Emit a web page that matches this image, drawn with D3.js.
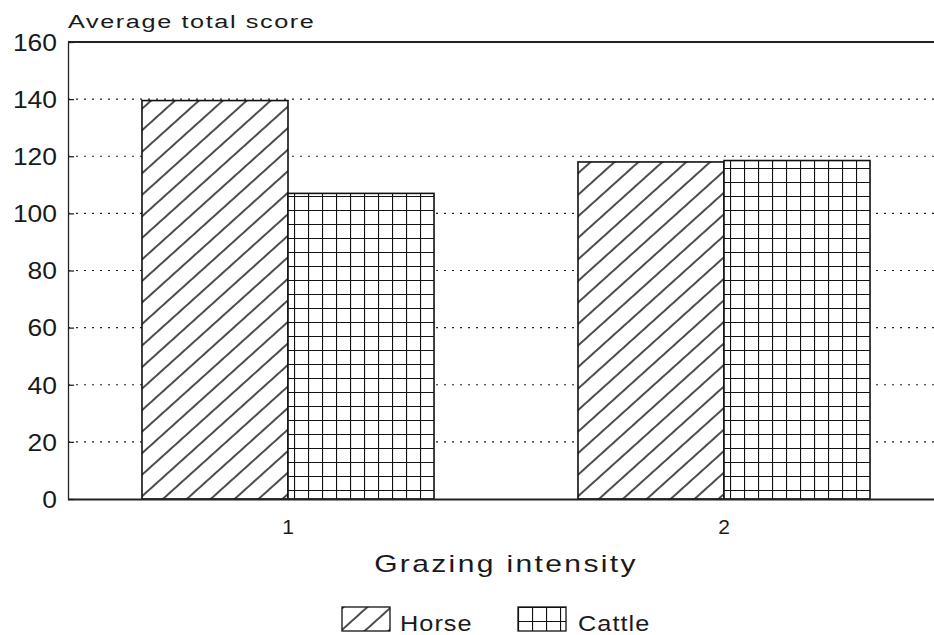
<!DOCTYPE html>
<html>
<head>
<meta charset="utf-8">
<script src="https://cdn.jsdelivr.net/npm/d3@7"></script>
<style>
  body { margin: 0; background: #fff; }
  text { font-family: "Liberation Sans", Arial, sans-serif; fill: #1a1a1a; }
</style>
</head>
<body>
<svg id="chart" width="934" height="635"></svg>
<script>
// data
const groups = ["1", "2"];
const series = ["Horse", "Cattle"];
const horse = [139.5, 118];
const cattle = [107, 118.5];
const yTicks = [0, 20, 40, 60, 80, 100, 120, 140, 160];

const width = 934, height = 635;
const margin = {top: 42, right: 0, bottom: 136, left: 68};

const svg = d3.select("#chart");

// patterns
const defs = svg.append("defs");
const hatch = defs.append("pattern")
    .attr("id", "hatch")
    .attr("patternUnits", "userSpaceOnUse")
    .attr("width", 16).attr("height", 16)
    .attr("patternTransform", "rotate(48)");
hatch.append("rect").attr("width", 16).attr("height", 16).attr("fill", "#fff");
hatch.append("line")
    .attr("x1", 1).attr("y1", 0).attr("x2", 1).attr("y2", 16)
    .attr("stroke", "#111").attr("stroke-width", 1.5);

const grid = defs.append("pattern")
    .attr("id", "grid")
    .attr("patternUnits", "userSpaceOnUse")
    .attr("width", 14).attr("height", 14);
grid.append("rect").attr("width", 14).attr("height", 14).attr("fill", "#fff");
grid.append("path")
    .attr("d", "M0.5,0V14M0,0.5H14")
    .attr("stroke", "#111").attr("stroke-width", 1.2);

const fills = {Horse: "url(#hatch)", Cattle: "url(#grid)"};

const x0 = d3.scaleBand()
    .domain(groups)
    .range([70, 942])
    .padding(0);

const x1 = d3.scaleBand()
    .domain(series)
    .range([0, x0.bandwidth()])
    .paddingInner(0)
    .paddingOuter(0.493);

const y = d3.scaleLinear()
    .domain([0, 160])
    .range([height - margin.bottom, margin.top]);

// dotted grid
svg.append("g")
  .selectAll("line")
  .data(yTicks.filter(d => d > 0 && d < 160))
  .join("line")
    .attr("x1", margin.left)
    .attr("x2", width)
    .attr("y1", d => y(d))
    .attr("y2", d => y(d))
    .attr("stroke", "#222")
    .attr("stroke-width", 1.2)
    .attr("stroke-dasharray", "2,6");

// bars
const rows = groups.map((g, i) => ({group: g, values: [
    {key: "Horse", value: horse[i]},
    {key: "Cattle", value: cattle[i]}
]}));

svg.append("g")
  .selectAll("g")
  .data(rows)
  .join("g")
    .attr("transform", d => `translate(${x0(d.group)},0)`)
  .selectAll("rect")
  .data(d => d.values)
  .join("rect")
    .attr("x", d => x1(d.key))
    .attr("y", d => y(d.value))
    .attr("width", x1.bandwidth())
    .attr("height", d => y(0) - y(d.value))
    .attr("fill", d => fills[d.key])
    .attr("stroke", "#111")
    .attr("stroke-width", 1.6);

// top frame line
svg.append("line")
    .attr("x1", margin.left).attr("x2", width)
    .attr("y1", y(160)).attr("y2", y(160))
    .attr("stroke", "#222").attr("stroke-width", 2);

// y axis
const yAxis = svg.append("g")
    .attr("transform", `translate(${margin.left},0)`)
    .call(d3.axisRight(y).tickValues(yTicks).tickSize(6).tickSizeOuter(0).tickFormat(d3.format("d")));
yAxis.select(".domain").attr("stroke", "#222").attr("stroke-width", 1.3);
yAxis.selectAll(".tick line").attr("stroke", "#222").attr("stroke-width", 1.3);
yAxis.selectAll(".tick text")
    .attr("x", 0)
    .attr("dy", "0.36em")
    .attr("transform", "translate(-11,0) scale(1.15,1)")
    .attr("text-anchor", "end")
    .attr("font-size", 23)
    .attr("font-family", "Liberation Sans, Arial, sans-serif")
    .attr("fill", "#1a1a1a");

// x axis
const xAxis = svg.append("g")
    .attr("transform", `translate(0,${y(0)})`)
    .call(d3.axisBottom(x0).tickSize(0).tickSizeOuter(0));
xAxis.select(".domain").attr("d", `M${margin.left},0.5H${width}`).attr("stroke", "#222").attr("stroke-width", 2);
xAxis.selectAll(".tick text")
    .attr("y", 35)
    .attr("dy", 0)
    .attr("font-size", 21)
    .attr("font-family", "Liberation Sans, Arial, sans-serif")
    .attr("fill", "#1a1a1a");

// titles
svg.append("text")
    .attr("transform", "translate(68,28) scale(1.33,1)")
    .attr("font-size", 19)
    .attr("letter-spacing", 1.2)
    .text("Average total score");

svg.append("text")
    .attr("transform", "translate(506,572) scale(1.25,1)")
    .attr("text-anchor", "middle")
    .attr("font-size", 24)
    .attr("letter-spacing", 1.9)
    .text("Grazing intensity");

// legend
const legendX = [342, 518];
const legend = svg.append("g")
  .selectAll("g")
  .data(series)
  .join("g")
    .attr("transform", (d, i) => `translate(${legendX[i]},607)`);
legend.append("rect")
    .attr("width", 48).attr("height", 24)
    .attr("fill", d => fills[d])
    .attr("stroke", "#111").attr("stroke-width", 1.3);
legend.append("text")
    .attr("transform", d => `translate(${d === "Horse" ? 58 : 60},24) scale(1.15,1)`)
    .attr("font-size", 22)
    .attr("letter-spacing", 0.9)
    .text(d => d);
</script>
</body>
</html>
